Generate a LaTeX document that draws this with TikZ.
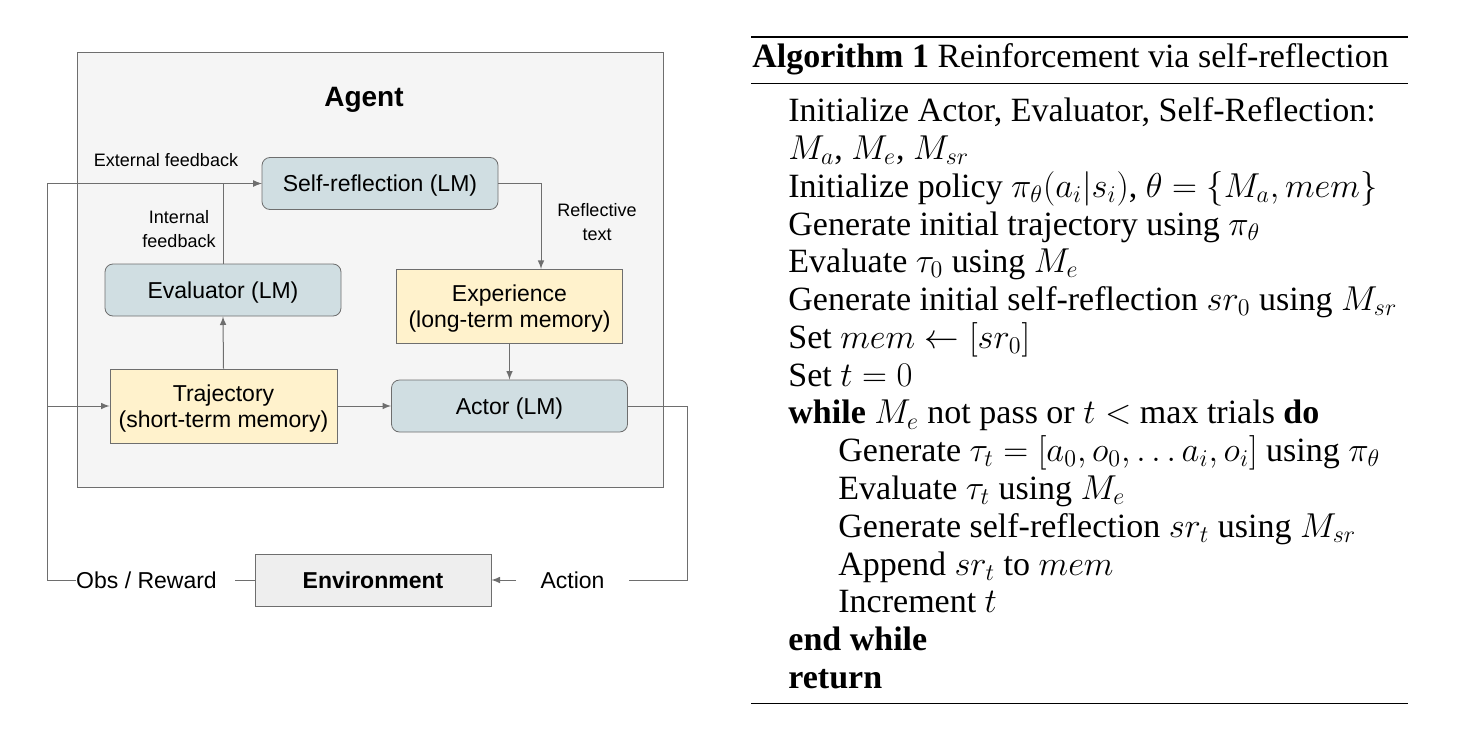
\documentclass[tikz,border=0pt]{standalone}
\usepackage{amssymb,amsmath}
\usepackage[no-math]{fontspec}
\setmainfont{Liberation Serif}
\newfontfamily\diagfont{Liberation Sans}
\usetikzlibrary{arrows,positioning}

\definecolor{agentbg}{HTML}{F5F5F5}
\definecolor{lmblue}{HTML}{D0DEE2}
\definecolor{memyellow}{HTML}{FFF2CC}
\definecolor{envgray}{HTML}{EEEEEE}
\definecolor{linegray}{HTML}{6E6E6E}

\tikzset{
  boxfont/.style={font=\diagfont\fontsize{11.5}{13}\selectfont},
  smallfont/.style={font=\diagfont\fontsize{9}{12}\selectfont},
  lmbox/.style={boxfont,draw=linegray,fill=lmblue,rounded corners=4pt,inner sep=0pt,text depth=0pt,minimum width=118pt,minimum height=26pt},
  membox/.style={boxfont,draw=linegray,fill=memyellow,inner sep=0pt,text depth=0pt,align=center,minimum width=113pt,minimum height=37pt},
  conn/.style={draw=linegray,line width=0.5pt},
  algline/.style={anchor=base west,inner sep=0pt,font=\fontsize{17}{18.9}\selectfont},
}

\begin{document}
\begin{tikzpicture}[x=0.5pt,y=-0.5pt]
	\useasboundingbox (0,0) rectangle (1481,728);

	% agent frame
	\draw[draw=linegray,fill=agentbg,line width=0.5pt] (77,52) rectangle (663,487);
	\node[font=\diagfont\bfseries\fontsize{14}{16}\selectfont] (agent) at (364,99.5) {Agent};

	\node[lmbox] (selfref) at (380,183.5) {Self-reflection (LM)};
	\node[lmbox] (eval) at (223,290) {Evaluator (LM)};
	\node[membox] (exper) at (509.5,306) {Experience\\(long-term memory)};
	\node[membox,minimum width=113.5pt] (traj) at (223.5,406) {Trajectory\\(short-term memory)};
	\node[lmbox] (actor) at (509.5,406) {Actor (LM)};
	\node[lmbox,fill=envgray,rounded corners=0pt,font=\diagfont\bfseries\fontsize{11.5}{13}\selectfont] (env) at (373,580) {Environment};

	\node[boxfont,inner sep=0pt,text depth=0pt] (obs) at (146.5,580) {Obs / Reward};
	\node[boxfont,inner sep=12pt,text depth=0pt] (action) at (572.5,580) {Action};
	\node[smallfont] (extfb) at (166,160) {External feedback};
	\node[smallfont,align=center] (intfb) at (179,229) {Internal\\feedback};
	\node[smallfont,align=center] (refltext) at (597,222) {Reflective\\text};

	\coordinate (leftc) at (47,580);
	\coordinate (branch) at (47,406);
	\coordinate (rightc) at (687,580);
	\coordinate (reflc) at (541,269);

	\draw[conn,-latex] (traj.north) -- (eval.south);
	\draw[conn,-latex] (eval.north) |- (selfref.west);
	\draw[conn,-latex] (obs.west) -- (leftc) |- (selfref.west);
	\draw[conn,-latex] (branch) -- (traj.west);
	\draw[conn] (env.west) -- ([xshift=9pt]obs.east);
	\draw[conn,-latex] (selfref.east) -| (reflc);
	\draw[conn,-latex] (exper.south) -- (actor.north);
	\draw[conn,-latex] (traj.east) -- (actor.west);
	\draw[conn] (actor.east) -| (rightc) -- (action.east);
	\draw[conn,-latex] (action.west) -- (env.east);

	% algorithm
	\draw[line width=1pt] (751,37) -- (1408,37);
	\draw[line width=0.7pt] (751,83.3) -- (1408,83.3);
	\draw[line width=0.7pt] (751,703.3) -- (1408,703.3);
	\node[algline] (title) at (752,67.7) {\textbf{Algorithm 1} Reinforcement via self-reflection};
	\node[algline] (l1) at (788,121.7) {Initialize Actor, Evaluator, Self-Reflection:};
	\node[algline] (l2) at (788,159.5) {$M_a$, $M_e$, $M_{sr}$};
	\node[algline] (l3) at (788,197.2) {Initialize policy $\pi_\theta(a_i|s_i)$, $\theta=\{M_a,mem\}$};
	\node[algline] (l4) at (788,235.0) {Generate initial trajectory using $\pi_\theta$};
	\node[algline] (l5) at (788,272.8) {Evaluate $\tau_0$ using $M_e$};
	\node[algline] (l6) at (788,310.5) {Generate initial self-reflection $sr_0$ using $M_{sr}$};
	\node[algline] (l7) at (788,348.3) {Set $mem \leftarrow [sr_0]$};
	\node[algline] (l8) at (788,386.1) {Set $t=0$};
	\node[algline] (l9) at (788,423.9) {\textbf{while} $M_e$ not pass or $t <$ max trials \textbf{do}};
	\node[algline] (l10) at (838,461.6) {Generate $\tau_t=[a_0,o_0,\dots a_i,o_i]$ using $\pi_\theta$};
	\node[algline] (l11) at (838,499.4) {Evaluate $\tau_t$ using $M_e$};
	\node[algline] (l12) at (838,537.2) {Generate self-reflection $sr_t$ using $M_{sr}$};
	\node[algline] (l13) at (838,575.0) {Append $sr_t$ to $mem$};
	\node[algline] (l14) at (838,612.7) {Increment $t$};
	\node[algline] (l15) at (788,650.5) {\textbf{end while}};
	\node[algline] (l16) at (788,688.3) {\textbf{return}};
\end{tikzpicture}
\end{document}
